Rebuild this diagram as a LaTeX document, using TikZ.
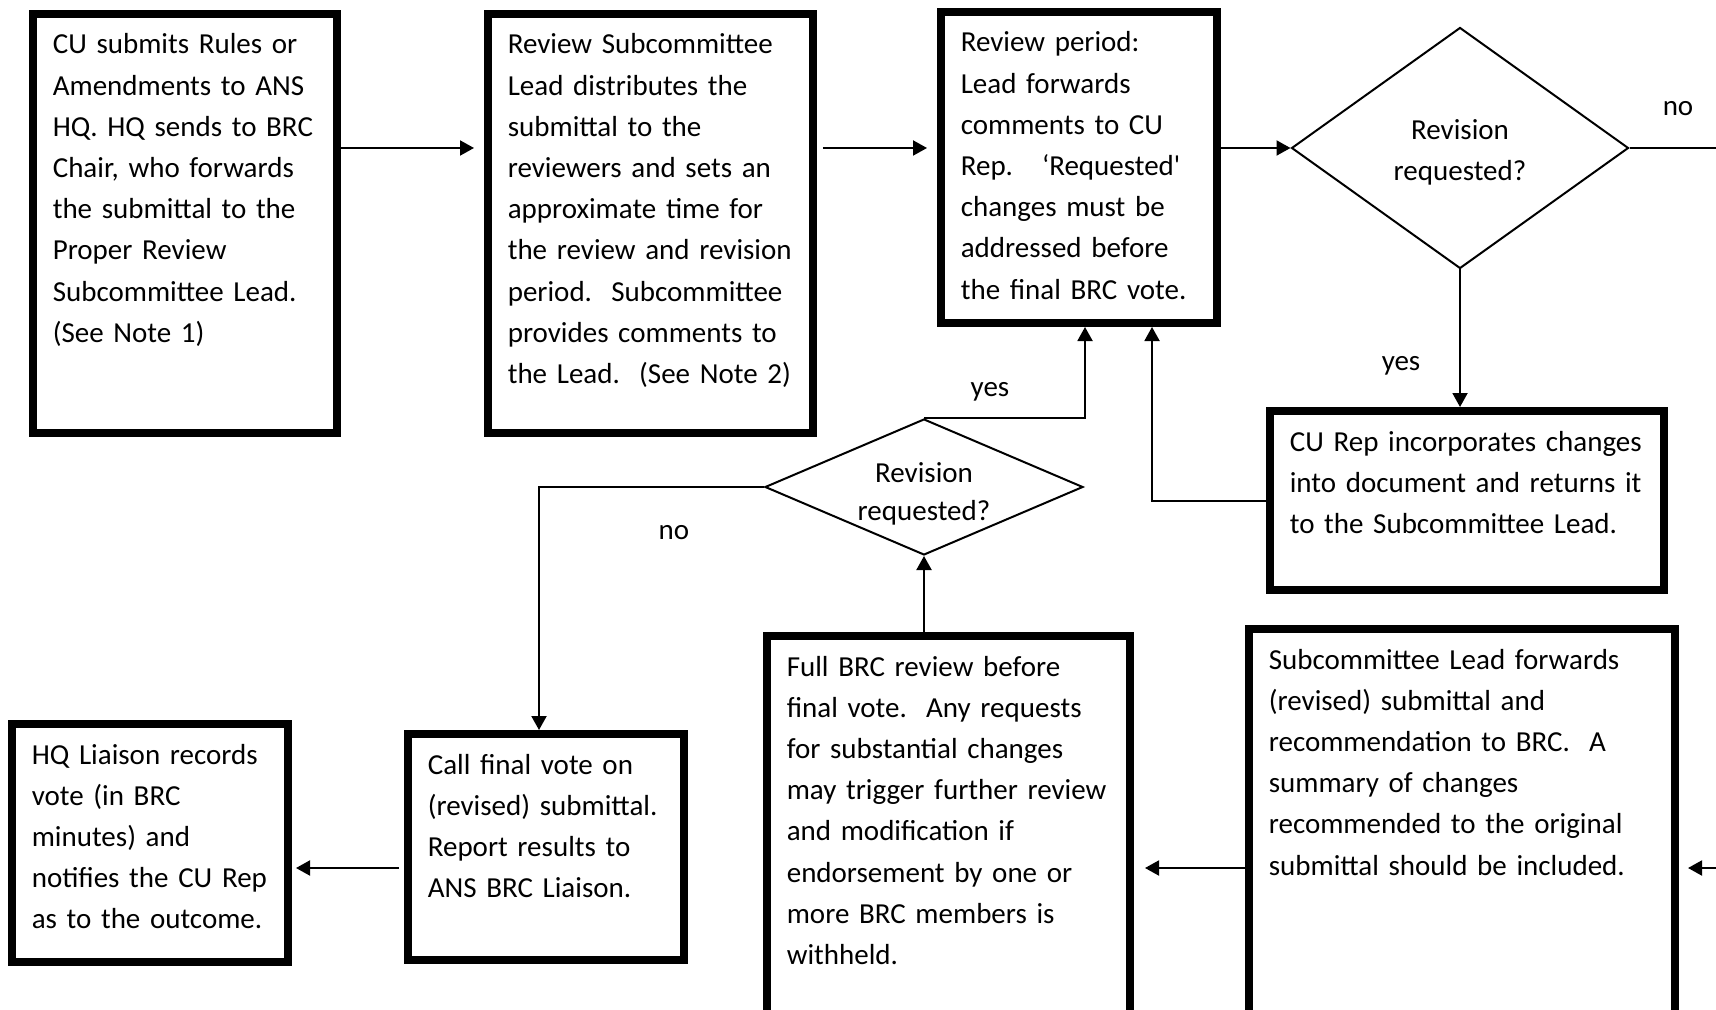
\documentclass[tikz,border=0pt]{standalone}
\usepackage{fontspec}
\setmainfont{Carlito}
\usetikzlibrary{shapes.geometric}
\usetikzlibrary{arrows.meta}
\newcommand{\flowfont}{\fontsize{14.5}{20.6}\selectfont}
\tikzset{procbox/.style={draw, line width=3.8pt, anchor=north west, align=left,
  inner xsep=10pt, inner ysep=0pt, text height=20.1pt, font=\flowfont},
%thin diamonds for the questions
decision/.style={draw, diamond, line width=1pt, inner sep=0pt, align=center, font=\flowfont,
  text height=34pt, text depth=1pt},
flow/.style={line width=1pt, -{Triangle[length=7pt,width=7.5pt]}},
tag/.style={font=\flowfont}}

\begin{document}
\begin{tikzpicture}[x=0.5pt,y=-0.5pt]
\clip (0,0) rectangle (1716,1010);

% top row
\node[procbox, text width=132.2pt, text depth=189.6pt] (b1) at (29,10)
  {CU submits Rules or\\Amendments to ANS\\HQ. HQ sends to BRC\\Chair, who forwards\\the submittal to the\\Proper Review\\Subcommittee Lead.\\(See Note 1)};
\node[procbox, text width=142.6pt, text depth=189.6pt] (b2) at (484,10)
  {Review Subcommittee\\Lead distributes the\\submittal to the\\reviewers and sets an\\approximate time for\\the review and revision\\period.\ \ Subcommittee\\provides comments to\\the Lead.\ \ (See Note 2)};
\node[procbox, text width=118.2pt, text depth=135.6pt] (b3) at (937,8)
  {Review period:\\Lead forwards\\comments to CU\\Rep.\ \ \ ‘Requested\textquotesingle\\changes must be\\addressed before\\the final BRC vote.};
\node[decision, minimum width=168.5pt, minimum height=120.5pt, aspect=1.4] (d1) at (1460,148) {Revision\\requested?};
\node[procbox, text width=177.2pt, text depth=69.6pt] (b4) at (1266,407)
  {CU Rep incorporates changes\\into document and returns it\\to the Subcommittee Lead.};

% bottom row
\node[decision, minimum width=159pt, minimum height=68pt, aspect=2.4] (d2) at (924,487) {Revision\\[-2pt]requested?};
\node[procbox, text width=193.2pt, text depth=173.6pt] (b5) at (1245,625)
  {Subcommittee Lead forwards\\(revised) submittal and\\recommendation to BRC.\ \ A\\summary of changes\\recommended to the original\\submittal should be included.};
\node[procbox, text width=161.7pt, text depth=170.1pt] (b6) at (763,632)
  {Full BRC review before\\final vote.\ \ Any requests\\for substantial changes\\may trigger further review\\and modification if\\endorsement by one or\\more BRC members is\\withheld.};
\node[procbox, text width=118.2pt, text depth=93.1pt] (b7) at (404,730)
  {Call final vote on\\(revised) submittal.\\Report results to\\ANS BRC Liaison.};
\node[procbox, text width=118.2pt, text depth=99.1pt] (b8) at (8,720)
  {HQ Liaison records\\vote (in BRC\\minutes) and\\notifies the CU Rep\\as to the outcome.};

\coordinate (rout) at (1716,148);
\coordinate (rin) at (1716,868);
\coordinate (row2) at (0,868);

%labels
\node[tag] (no1) at (1678,109) {no};
\node[tag] (yes1) at (1401,366) {yes};
\node[tag] (yes2) at (990,392) {yes};
\node[tag] (no2) at (674,533) {no};

% arrows
\draw[flow, shorten >=5pt] (b1.east |- d1.west) -- (b2.west |- d1.west);
\draw[flow, shorten <=3pt, shorten >=5pt] (b2.east |- d1.west) -- (b3.west |- d1.west);
\draw[flow] (b3.east |- d1.west) -- (d1.west);
\draw[line width=1pt] (d1.east) -- (rout);
\draw[flow] (d1.south) -- (d1.south |- b4.north);
\draw[flow] (b4.west) -| ([xshift=36.5pt]b3.south);
\draw[flow] (d2.north) -| ([xshift=3pt]b3.south);
\draw[flow] (d2.west) -| ([xshift=-3.5pt]b7.north);
\draw[flow] (b6.north -| d2.south) -- (d2.south);
\draw[flow, shorten >=5.5pt] (b5.west |- row2) -- (b6.east |- row2);
\draw[flow, shorten >=4.5pt] (rin) -- (b5.east |- row2);
\draw[flow, shorten <=2.5pt, shorten >=2pt] (b7.west |- row2) -- (b8.east |- row2);

\end{tikzpicture}
\end{document}
